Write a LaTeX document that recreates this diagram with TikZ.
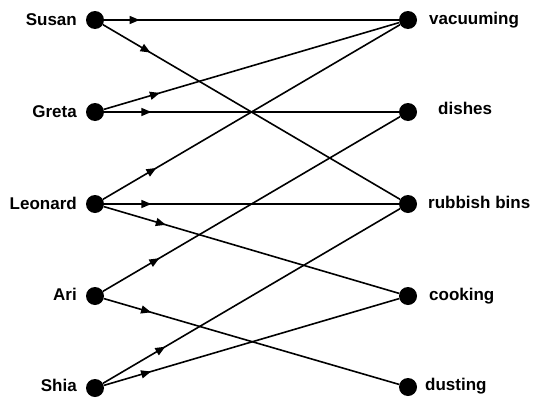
\documentclass[tikz,border=0pt]{standalone}
\usepackage{fontspec}
\setmainfont{Liberation Sans}
\usetikzlibrary{arrows.meta,decorations.markings}
\tikzset{
  dot/.style={circle,fill=black,draw=none,minimum size=18pt,inner sep=0pt},
  lbl/.style={inner sep=0pt,font=\fontsize{17}{19}\selectfont\bfseries},
  edge/.style={line width=1.6pt,postaction={decorate},
    decoration={markings,mark=at position #1 with {\arrow{Triangle[length=10pt,width=8pt]}}}},
}
\begin{document}
\begin{tikzpicture}[x=1pt,y=-1pt]
\useasboundingbox (0,0) rectangle (533,399);
% left dots
\node[dot] (su) at (95,20) {};
\node[dot] (gr) at (95,112) {};
\node[dot] (le) at (95,204) {};
\node[dot] (ar) at (95,296) {};
\node[dot] (sh) at (95,388) {};
% right dots
\node[dot] (va) at (408,20) {};
\node[dot] (di) at (408,112) {};
\node[dot] (ru) at (408,204) {};
\node[dot] (co) at (408,296) {};
\node[dot] (du) at (408,387) {};
% labels
\node[lbl,anchor=mid east] (lsu) at (77,23) {Susan};
\node[lbl,anchor=mid east] (lgr) at (77,115) {Greta};
\node[lbl,anchor=mid east] (lle) at (77,207) {Leonard};
\node[lbl,anchor=mid east] (lar) at (77,298) {Ari};
\node[lbl,anchor=mid east] (lsh) at (77,389) {Shia};
\node[lbl,anchor=mid west] (lva) at (429,22) {vacuuming};
\node[lbl,anchor=mid west] (ldi) at (438,112) {dishes};
\node[lbl,anchor=mid west] (lru) at (428,206) {rubbish bins};
\node[lbl,anchor=mid west] (lco) at (429,298) {cooking};
\node[lbl,anchor=mid west] (ldu) at (425,388) {dusting};
% edges
\draw[edge=0.12] (su) -- (va);
\draw[edge=0.16] (su) -- (ru);
\draw[edge=0.19] (gr) -- (va);
\draw[edge=0.16] (gr) -- (di);
\draw[edge=0.18] (le) -- (va);
\draw[edge=0.16] (le) -- (ru);
\draw[edge=0.21] (le) -- (co);
\draw[edge=0.19] (ar) -- (di);
\draw[edge=0.16] (ar) -- (du);
\draw[edge=0.21] (sh) -- (ru);
\draw[edge=0.16] (sh) -- (co);
\end{tikzpicture}
\end{document}
